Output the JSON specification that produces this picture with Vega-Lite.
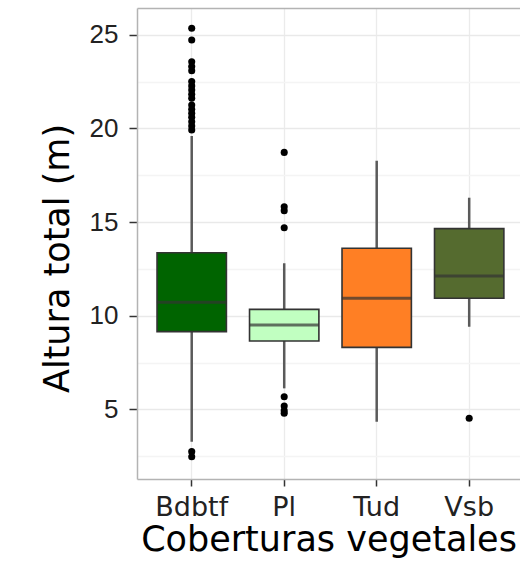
{
  "$schema": "https://vega.github.io/schema/vega-lite/v6.json",
  "width": 383,
  "height": 471,
  "autosize": {"type": "none"},
  "padding": {"left": 137, "top": 8, "right": 0, "bottom": 102},
  "background": "white",
  "config": {
    "view": {"stroke": null},
    "axis": {
      "domain": true,
      "domainColor": "#b3b3b3",
      "domainWidth": 1.5,
      "tickColor": "#333333",
      "tickWidth": 1.5,
      "labelColor": "#222222",
      "titleColor": "#000000",
      "titleFontWeight": "normal",
      "grid": true,
      "gridColor": "#ebebeb",
      "gridWidth": 1.3
    }
  },
  "datasets": {
    "boxes": [
      {"cobertura": "Bdbtf", "lo": 3.27, "q1": 9.15, "med": 10.72, "q3": 13.36, "hi": 19.6},
      {"cobertura": "Pl", "lo": 6.12, "q1": 8.65, "med": 9.5, "q3": 10.34, "hi": 12.8},
      {"cobertura": "Tud", "lo": 4.34, "q1": 8.31, "med": 10.93, "q3": 13.6, "hi": 18.28},
      {"cobertura": "Vsb", "lo": 9.41, "q1": 10.93, "med": 12.12, "q3": 14.65, "hi": 16.3}
    ],
    "atipicos": [
      {"cobertura": "Bdbtf", "altura": 25.35},
      {"cobertura": "Bdbtf", "altura": 24.72},
      {"cobertura": "Bdbtf", "altura": 23.56},
      {"cobertura": "Bdbtf", "altura": 23.3},
      {"cobertura": "Bdbtf", "altura": 23.08},
      {"cobertura": "Bdbtf", "altura": 22.5},
      {"cobertura": "Bdbtf", "altura": 22.27},
      {"cobertura": "Bdbtf", "altura": 22.05},
      {"cobertura": "Bdbtf", "altura": 21.82},
      {"cobertura": "Bdbtf", "altura": 21.61},
      {"cobertura": "Bdbtf", "altura": 21.25},
      {"cobertura": "Bdbtf", "altura": 21.02},
      {"cobertura": "Bdbtf", "altura": 20.81},
      {"cobertura": "Bdbtf", "altura": 20.59},
      {"cobertura": "Bdbtf", "altura": 20.36},
      {"cobertura": "Bdbtf", "altura": 20.13},
      {"cobertura": "Bdbtf", "altura": 19.92},
      {"cobertura": "Bdbtf", "altura": 2.74},
      {"cobertura": "Bdbtf", "altura": 2.47},
      {"cobertura": "Pl", "altura": 18.72},
      {"cobertura": "Pl", "altura": 15.82},
      {"cobertura": "Pl", "altura": 15.61},
      {"cobertura": "Pl", "altura": 14.7},
      {"cobertura": "Pl", "altura": 5.67},
      {"cobertura": "Pl", "altura": 5.18},
      {"cobertura": "Pl", "altura": 4.93},
      {"cobertura": "Pl", "altura": 4.79},
      {"cobertura": "Vsb", "altura": 4.52}
    ]
  },
  "encoding": {
    "x": {
      "field": "cobertura",
      "type": "nominal",
      "sort": ["Bdbtf", "Pl", "Tud", "Vsb"],
      "scale": {"paddingInner": 0, "paddingOuter": 0.0705, "align": 0.65},
      "axis": {
        "title": "Coberturas vegetales",
        "labelAngle": 0,
        "labelFont": "DejaVu Sans",
        "labelFontSize": 27,
        "labelPadding": 8,
        "tickSize": 7,
        "titleFont": "DejaVu Sans",
        "titleFontSize": 35,
        "titleBaseline": "alphabetic",
        "titleY": 71
      }
    }
  },
  "layer": [
    {
      "data": {"name": "boxes"},
      "mark": {"type": "rule", "color": "#5a5a5a", "strokeWidth": 2.5},
      "encoding": {
        "y": {
          "field": "lo",
          "type": "quantitative",
          "title": "Altura total (m)",
          "scale": {"domain": [1.28, 26.43], "nice": false, "zero": false},
          "axis": {
            "values": [2.5, 5, 7.5, 10, 12.5, 15, 17.5, 20, 22.5, 25, 26.43],
            "labelExpr": "datum.value % 5 === 0 ? datum.label : ''",
            "tickOpacity": {"condition": {"test": "datum.value % 5 !== 0", "value": 0}, "value": 1},
            "gridColor": {
              "condition": [
                {"test": "datum.value > 26", "value": "#b3b3b3"},
                {"test": "datum.value % 5 !== 0", "value": "#f4f4f4"}
              ],
              "value": "#e9e9e9"
            },
            "gridWidth": {"condition": {"test": "datum.value > 26", "value": 1.5}, "value": 1.3},
            "tickSize": 8,
            "labelFont": "Liberation Sans",
            "labelFontSize": 26,
            "labelPadding": 11,
            "titleFont": "DejaVu Sans",
            "titleFontSize": 35,
            "titleAngle": 270,
            "titleBaseline": "alphabetic",
            "titleX": -69,
            "titleY": 250
          }
        },
        "y2": {"field": "hi"}
      }
    },
    {
      "data": {"name": "boxes"},
      "mark": {"type": "bar", "stroke": "#333333", "strokeWidth": 1.6, "width": {"band": 0.75}},
      "encoding": {
        "y": {"field": "q1", "type": "quantitative", "title": "Altura total (m)"},
        "y2": {"field": "q3"},
        "color": {
          "field": "cobertura",
          "type": "nominal",
          "scale": {"domain": ["Bdbtf", "Pl", "Tud", "Vsb"], "range": ["#006400", "#C1FFC1", "#FF7F24", "#556B2F"]},
          "legend": null
        }
      }
    },
    {
      "data": {"name": "boxes"},
      "mark": {"type": "tick", "color": "#333333", "thickness": 3, "size": 69.5},
      "encoding": {
        "y": {"field": "med", "type": "quantitative", "title": "Altura total (m)"}
      }
    },
    {
      "data": {"name": "atipicos"},
      "mark": {"type": "circle", "color": "#000000", "opacity": 1, "size": 50},
      "encoding": {
        "y": {"field": "altura", "type": "quantitative", "title": "Altura total (m)"}
      }
    }
  ]
}
